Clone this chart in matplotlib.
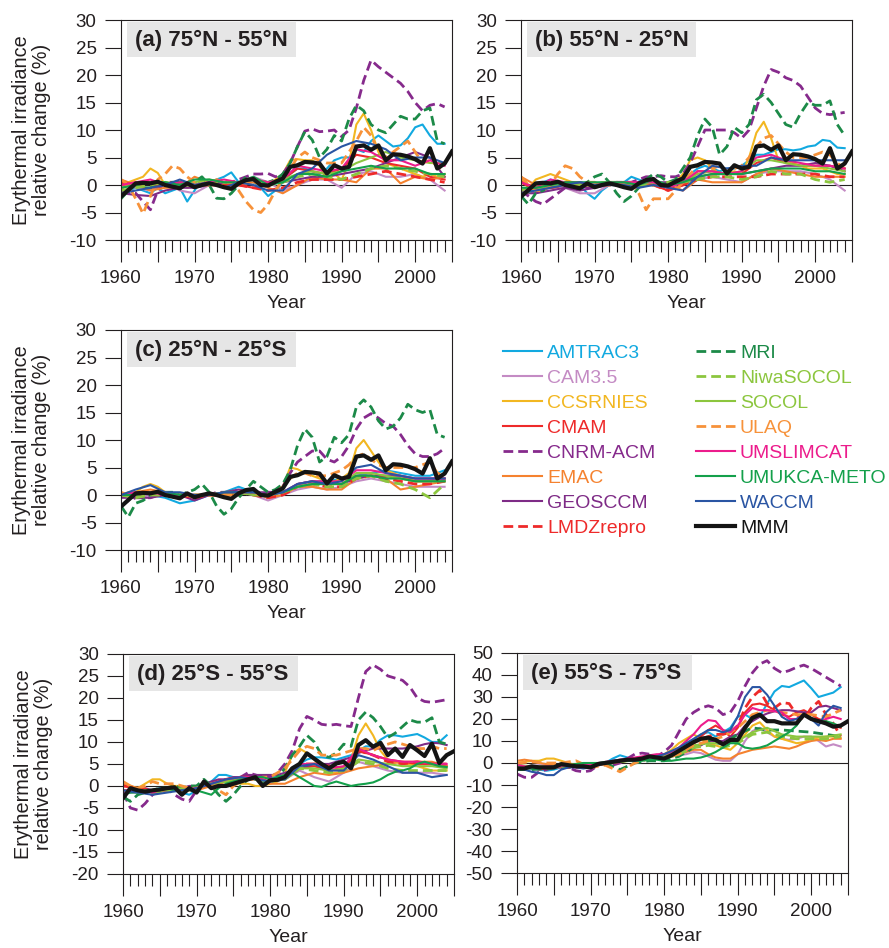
import matplotlib
matplotlib.use('Agg')
import matplotlib.pyplot as plt
import numpy as np
from matplotlib.patches import Rectangle
from matplotlib.ticker import MultipleLocator, FuncFormatter

plt.rcParams['font.family'] = ['Liberation Sans', 'DejaVu Sans']
plt.rcParams['axes.unicode_minus'] = False
plt.rcParams['lines.scale_dashes'] = False

# years: models are read every year or every second year, MMM runs to 2005
yrs = np.arange(1960, 2005)
yrs2 = np.arange(1960, 2005, 2)
yrs_mmm = np.arange(1960, 2006)

models = ['AMTRAC3', 'CAM3.5', 'CCSRNIES', 'CMAM', 'CNRM-ACM', 'EMAC', 'GEOSCCM',
          'LMDZrepro', 'MRI', 'NiwaSOCOL', 'SOCOL', 'ULAQ', 'UMSLIMCAT',
          'UMUKCA-METO', 'WACCM']
colors = ['#12A9E0', '#C48BC4', '#F2B721', '#EE2A2A', '#862A8C', '#F5822F', '#7E2B86',
          '#EE2A2A', '#1C8A48', '#8CC63E', '#8CC63E', '#F7923A', '#EC1C8C',
          '#14A04B', '#2A55A3']
dashed = [False, False, False, False, True, False, False,
          True, True, True, False, True, False, False, False]

# ---------------- MMM (same curve in a, b, c) ----------------
mmm_abc = [-2.1, -0.9, 0.3, 0.4, 0.3, 0.6, 0.0, -0.3, -0.6, 0.3,
           -0.4, 0.0, 0.3, 0.0, -0.4, -0.7, 0.3, 0.9, 1.1, 0.0,
           -0.1, 0.6, 1.2, 3.3, 3.6, 4.2, 4.1, 3.9, 2.1, 3.6,
           3.0, 3.3, 7.0, 7.2, 6.4, 7.2, 4.5, 5.6, 5.5, 5.2,
           4.7, 3.9, 6.7, 3.0, 3.9, 6.1]
mmm_d = [-2.8, -0.5, -1.0, -1.3, -1.0, -0.8, -0.5, -0.3, -2.0, -0.5,
         -1.5, 1.0, -0.5, 0.0, 0.0, 0.5, 1.0, 1.5, 2.0, 0.0,
         1.3, 1.4, 2.0, 4.0, 5.0, 7.4, 6.2, 5.0, 4.0, 5.1,
         5.5, 4.0, 9.3, 10.4, 8.9, 9.8, 7.0, 8.5, 6.6, 9.3,
         8.1, 6.8, 9.6, 5.2, 7.0, 7.9]
mmm_e = [-2.5, -2.5, -1.5, -2.0, -2.0, -2.0, -0.5, -1.0, -1.5, -1.5,
         -2.0, -0.5, 0.0, 0.5, 1.0, 1.5, 1.5, 2.0, 3.0, 2.5,
         2.0, 3.5, 5.5, 7.5, 9.5, 11.0, 11.5, 10.5, 8.5, 10.5,
         10.5, 16.0, 20.5, 22.0, 19.0, 19.0, 18.0, 18.0, 18.0, 22.0,
         20.0, 19.0, 18.0, 16.5, 17.0, 19.0]

# ---------------- (a) 75N - 55N ----------------
a_amtrac = [-1.0, -1.0, -0.5, -1.0, -1.5, -0.5, -1.5, -1.0, -0.5, -3.0,
            -1.0, 1.0, 0.5, 1.0, 1.5, 2.3, 0.5, 0.5, 0.5, -0.5,
            -2.0, -1.0, 0.5, 2.0, 3.0, 3.0, 2.5, 2.0, 3.0, 4.5,
            5.0, 5.0, 6.5, 6.0, 8.0, 9.0, 8.0, 7.0, 7.2, 8.5,
            10.5, 11.0, 9.0, 7.5, 7.5]
a_cam = [0.0, -0.5, -1.0, 0.5, -1.0, -1.5, 0.0, 0.5, 0.5, 1.5,
         0.5, -1.0, 0.0, 1.0, 1.0, -0.5, 2.0, 2.5, 1.5, 1.5,
         2.0, 1.0, -1.0]
a_ccsr = [-1.0, 0.5, 1.0, 1.5, 3.0, 2.2, 0.0, 0.0, 0.5, -0.5,
          0.0, 0.5, 0.5, 0.0, 0.0, -0.5, 0.0, 0.5, 1.0, 0.5,
          0.0, 1.0, 2.0, 4.5, 4.7, 4.5, 4.5, 3.5, 1.0, 2.0,
          1.0, 4.0, 11.0, 13.0, 10.0, 6.0, 4.0, 3.5, 3.0, 2.5,
          2.0, 1.5, 2.0, 1.5, 2.0]
a_cmam = [0.0, 0.5, 0.5, 0.0, 0.5, 0.0, 0.0, 0.5, 0.0, -0.5,
          0.0, 1.0, 3.0, 2.5, 2.0, 3.0, 5.5, 5.0, 4.0, 3.5,
          3.0, 1.5, 1.0]
a_cnrm = [-0.9, -1.5, -1.5, -3.0, -4.5, -1.0, 0.5, 0.5, 0.0, 0.0,
          0.5, 0.0, 0.5, 0.5, 0.0, 0.5, 1.0, 1.5, 2.0, 2.0,
          2.1, 1.5, 2.0, 4.0, 7.0, 9.8, 10.2, 9.7, 9.8, 10.0,
          8.8, 10.0, 14.0, 19.0, 22.7, 21.5, 20.5, 19.5, 18.5, 17.0,
          15.0, 13.5, 14.5, 14.8, 14.2]
a_emac = [1.0, 0.0, -1.0, -0.5, -0.5, 1.5, 0.5, 0.0, 0.0, 0.5,
          -0.5, -1.5, 0.0, 1.5, 1.0, 1.0, 0.5, 3.0, 3.0, 0.3,
          1.5, 1.0, 1.5]
a_geos = [-1.5, -1.8, -2.0, -1.0, -0.5, -0.5, 0.0, 0.5, 0.5, 1.0,
          0.5, 0.5, 1.0, 1.5, 1.5, 2.0, 2.5, 3.0, 4.0, 5.0,
          6.0, 5.0, 1.5]
a_lmdz = [0.5, 0.0, -0.5, 0.0, 0.5, 0.0, 0.0, 0.0, 0.0, -0.5,
          -1.0, -0.5, 0.5, 1.0, 1.0, 1.0, 1.5, 2.0, 2.5, 2.0,
          1.5, 1.0, 0.5]
a_mri = [-2.5, -1.0, 0.0, -0.5, -0.5, 0.5, 0.0, 0.5, 0.5, 0.0,
         0.5, 1.5, 0.0, -2.4, -2.5, -1.5, 0.0, 1.5, 1.0, 0.5,
         0.5, 1.0, 2.0, 4.0, 7.0, 9.7, 8.2, 5.0, 6.5, 9.0,
         8.0, 12.0, 14.5, 13.5, 11.0, 10.0, 9.5, 11.0, 12.5, 12.0,
         12.0, 13.5, 14.0, 8.0, 7.5]
a_niwa = [-1.0, -0.5, 0.0, 0.5, 0.0, 0.0, 0.5, 0.5, 0.5, 1.0,
          0.0, 0.5, 1.5, 2.0, 1.5, 1.0, 2.0, 3.0, 3.5, 3.0,
          2.5, 2.0, 1.5]
a_socol = [-0.5, 0.0, 0.5, 0.5, 0.0, 0.5, 1.0, 0.5, 0.5, 1.0,
           0.5, 1.0, 2.0, 2.5, 2.0, 2.5, 4.0, 5.0, 6.0, 5.0,
           4.5, 4.0, 4.0]
a_ulaq = [1.0, 0.0, -2.5, -5.2, -2.0, 1.0, 2.0, 3.5, 3.0, 1.5,
          0.5, 0.0, 0.0, 1.0, 0.5, 0.5, -1.0, -3.0, -4.5, -5.0,
          -3.5, -1.0, 1.0, 3.0, 5.0, 6.0, 5.0, 4.5, 4.0, 4.0,
          4.0, 6.0, 8.0, 10.5, 9.0, 6.0, 5.0, 6.0, 7.0, 8.0,
          6.0, 4.0, 4.5, 3.5, 2.5]
a_umslim = [0.0, 0.5, 1.0, 0.0, 0.5, 0.0, 0.5, 1.0, 0.5, 1.0,
            0.5, 1.0, 3.5, 3.0, 2.5, 3.0, 6.5, 6.0, 4.5, 4.5,
            3.5, 4.5, 3.5]
a_umukca = [-0.5, 0.0, 0.5, 0.5, 0.0, 1.0, 1.0, 0.5, 0.5, 1.5,
            0.0, 0.5, 2.0, 2.0, 1.5, 2.5, 3.0, 3.5, 3.0, 3.0,
            3.0, 2.0, 2.0]
a_waccm = [-1.5, -1.0, -0.5, 0.0, 1.0, 0.0, 0.5, -0.5, 0.5, 0.0,
           -1.0, -1.0, 2.0, 3.0, 5.5, 7.0, 8.0, 7.5, 6.5, 4.5,
           5.0, 5.0, 4.0]

# ---------------- (b) 55N - 25N ----------------
b_amtrac = [-1.0, -1.5, -0.5, 0.5, 1.0, 0.5, 0.5, 0.0, 0.0, -1.5,
            -2.5, -1.0, 0.0, 0.0, 0.5, 1.5, 1.0, 0.5, 0.5, 0.0,
            -0.5, 0.0, 0.5, 2.0, 3.0, 3.5, 3.0, 2.5, 3.0, 3.0,
            3.5, 4.5, 5.5, 5.5, 6.0, 6.5, 6.5, 6.3, 6.5, 7.0,
            7.2, 8.2, 8.0, 6.8, 6.7]
b_cam = [-1.0, -1.5, -0.5, -0.5, -1.5, -1.5, 0.0, 0.5, 0.5, 0.5,
         0.0, -1.0, 1.0, 1.5, 1.0, 0.5, 2.0, 2.5, 2.5, 2.5,
         2.0, 1.0, -1.0]
b_ccsr = [1.0, -0.5, 1.0, 1.5, 2.0, 1.5, 1.0, 0.5, 0.5, 0.0,
          0.0, 0.5, 0.5, 0.0, 0.0, 0.0, 0.5, 0.5, 0.5, 0.0,
          0.0, 0.5, 2.0, 4.5, 5.0, 4.5, 3.0, 2.0, 2.0, 2.5,
          2.0, 5.0, 9.5, 11.5, 8.5, 4.5, 4.5, 4.0, 3.5, 3.0,
          3.0, 3.0, 2.5, 2.0, 2.0]
b_cmam = [0.5, -1.0, 0.0, 0.5, 0.0, 0.0, 0.0, 0.5, 0.0, 0.0,
          -1.0, 0.0, 2.5, 2.5, 2.0, 2.0, 4.0, 5.0, 4.0, 3.5,
          3.5, 3.5, 3.0]
b_cnrm = [-1.0, -2.0, -3.0, -3.5, -2.5, -1.5, -0.5, 0.0, 0.0, -0.5,
          -0.5, 0.0, 0.0, 0.5, 0.5, 0.5, 1.0, 1.5, 1.5, 1.7,
          1.5, 1.5, 2.0, 4.0, 7.0, 10.0, 10.0, 10.0, 10.0, 9.5,
          8.5, 10.0, 14.0, 18.0, 21.0, 20.5, 19.5, 19.0, 18.0, 16.0,
          14.0, 13.0, 12.8, 13.0, 13.2]
b_emac = [1.5, 0.0, -0.5, 0.0, 0.0, 0.0, 0.5, 0.0, 0.0, 0.5,
          0.0, -1.0, 1.0, 0.5, 0.5, 0.5, 2.0, 3.0, 2.5, 2.0,
          1.5, 1.5, 1.5]
b_geos = [-1.5, -1.5, -1.0, -0.5, -1.0, -0.5, 0.0, 0.5, 0.5, 0.5,
          0.5, 0.0, 1.5, 2.0, 2.0, 2.0, 2.5, 3.0, 3.5, 3.5,
          4.0, 3.5, 2.5]
b_lmdz = [0.5, -0.5, -0.5, 0.0, 0.0, 0.0, 0.0, 0.5, 0.0, 0.0,
          -1.0, 0.0, 1.0, 1.5, 1.5, 1.5, 1.5, 2.0, 2.0, 2.0,
          2.0, 1.5, 1.5]
b_mri = [-2.0, -3.5, -1.5, -1.0, 0.0, 0.5, 0.0, 0.5, 0.0, 0.5,
         1.5, 2.0, 0.5, -1.5, -3.0, -2.0, -0.5, 1.0, 2.0, 1.5,
         0.5, 1.0, 3.0, 5.0, 9.0, 12.0, 10.5, 5.5, 7.0, 10.5,
         9.5, 11.0, 15.5, 16.5, 15.0, 13.0, 11.0, 10.5, 13.0, 15.0,
         14.5, 14.5, 15.3, 11.0, 9.0]
b_niwa = [-1.5, -1.0, 0.0, 0.0, 0.0, 0.0, 0.5, 0.5, 0.0, 0.0,
          0.5, 0.5, 1.0, 1.5, 1.5, 1.0, 1.5, 2.5, 2.0, 2.0,
          1.0, 0.5, 1.0]
b_socol = [-1.0, 0.0, 0.5, 0.5, 0.0, 0.0, 0.5, 0.5, 0.0, 0.5,
           0.0, 0.5, 2.0, 2.5, 2.0, 2.5, 4.5, 4.5, 4.0, 3.5,
           3.5, 3.0, 2.5]
b_ulaq = [1.5, 0.0, -1.0, -1.0, 0.0, 2.0, 3.5, 3.0, 1.5, 0.5,
          0.5, 0.0, 0.0, 0.0, 0.0, 0.5, -1.5, -4.5, -2.5, -2.5,
          -2.5, -1.0, 0.5, 2.0, 3.5, 4.0, 3.0, 3.5, 2.5, 3.0,
          3.5, 5.0, 7.0, 8.5, 9.0, 7.5, 6.0, 5.0, 5.0, 5.0,
          5.5, 6.0, 5.5, 4.0, 3.0]
b_umslim = [0.5, -0.5, 1.0, 0.5, 0.5, 0.0, 0.5, 0.5, 0.5, 0.5,
            -0.5, 0.5, 2.5, 2.5, 2.0, 2.5, 5.0, 5.5, 4.5, 4.0,
            3.5, 3.5, 3.0]
b_umukca = [-0.5, -0.5, 0.0, 0.5, 0.5, 0.5, 0.5, 0.5, 0.0, 1.0,
            0.0, 0.5, 1.5, 2.0, 2.0, 2.0, 2.5, 3.0, 3.0, 3.0,
            2.5, 2.5, 2.0]
b_waccm = [-1.5, -1.0, -0.5, 0.0, 0.5, 0.0, 0.0, 0.0, -0.5, 0.0,
           -0.5, -1.0, 1.5, 3.5, 3.0, 3.5, 3.5, 5.0, 4.5, 4.5,
           4.5, 4.5, 4.5]

# ---------------- (c) 25N - 25S ----------------
c_amtrac = [0.0, 0.5, 0.0, -0.5, -1.5, -1.0, 0.0, 0.5, 1.5, 0.5,
            -0.5, 0.0, 2.0, 2.5, 2.5, 3.0, 3.5, 4.0, 4.5, 4.0,
            3.5, 3.5, 4.5]
c_cam = [0.0, -0.5, 0.0, 0.0, 0.0, -0.5, 0.0, 0.0, 0.5, 0.0,
         -1.0, 0.0, 1.0, 1.5, 1.0, 1.5, 2.5, 3.0, 2.5, 2.0,
         1.5, 1.5, 1.5]
c_ccsr = [0.0, 0.5, 0.5, 1.5, 2.0, 1.5, 0.5, 0.0, 0.0, 0.0,
          -0.5, 0.0, 0.0, 0.0, 0.0, 0.0, 0.0, 0.5, 0.5, 0.0,
          -0.5, 0.0, 1.5, 5.0, 4.7, 4.0, 3.5, 3.0, 2.5, 2.5,
          3.0, 4.0, 8.5, 10.0, 8.0, 6.0, 4.5, 4.0, 3.5, 3.0,
          2.5, 2.5, 2.5, 3.0, 3.0]
c_cmam = [0.0, 0.5, 0.5, 0.0, 0.0, -0.5, 0.0, 0.5, 0.5, 0.5,
          0.0, 0.5, 1.5, 2.0, 2.0, 2.0, 3.5, 3.5, 3.5, 3.0,
          2.5, 2.5, 2.5]
c_cnrm = [-2.0, -1.0, -0.5, -0.5, -0.5, 0.0, 0.0, 0.0, 0.0, 0.0,
          0.0, 0.0, 0.0, 0.5, 0.5, 0.5, 0.5, 0.5, 0.5, 0.5,
          0.5, 0.5, 1.5, 4.0, 6.0, 7.0, 8.0, 8.0, 6.5, 6.0,
          7.0, 9.0, 12.0, 14.0, 14.8, 14.0, 13.0, 12.5, 11.0, 9.0,
          7.5, 7.0, 7.0, 7.5, 8.5]
c_emac = [0.0, 0.5, 1.0, 0.5, 0.0, -0.5, 0.0, 0.0, 0.5, 0.5,
          -0.5, 0.0, 1.5, 1.5, 1.0, 1.0, 3.0, 3.5, 3.0, 1.0,
          1.5, 2.0, 2.5]
c_geos = [-0.5, -0.5, -0.5, 0.0, 0.0, -1.0, 0.0, 0.5, 1.0, 0.5,
          0.5, 0.5, 2.0, 2.5, 2.0, 2.0, 3.0, 3.5, 3.5, 3.5,
          3.0, 3.0, 3.0]
c_lmdz = [0.0, 0.0, 0.5, 0.0, 0.0, -0.5, 0.0, 0.0, 0.5, 0.0,
          -0.5, 0.0, 1.5, 2.0, 1.5, 1.5, 3.0, 3.5, 3.0, 2.5,
          2.0, 2.0, 2.5]
c_mri = [-2.0, -4.0, -1.5, -1.0, 0.0, 0.5, 0.5, 0.5, 0.0, 0.5,
         1.0, 2.0, 0.5, -2.0, -3.5, -2.5, -0.5, 1.0, 2.5, 1.5,
         0.5, 1.0, 2.0, 4.5, 9.0, 12.0, 10.5, 6.0, 7.0, 10.5,
         9.5, 11.0, 16.0, 17.3, 16.0, 13.5, 12.0, 12.5, 14.0, 16.5,
         15.5, 15.0, 15.5, 11.0, 10.5]
c_niwa = [0.0, -0.5, 0.0, 0.0, 0.0, 0.0, 0.0, 0.5, 0.5, 0.0,
          0.0, 0.5, 1.5, 2.0, 1.5, 1.5, 3.0, 3.5, 2.5, 2.0,
          1.0, -0.5, 2.0]
c_socol = [0.0, 0.0, 0.5, 0.5, 0.0, 0.0, 0.0, 0.5, 0.5, 0.0,
           0.0, 0.5, 1.5, 2.0, 2.0, 2.0, 4.0, 4.0, 3.5, 3.0,
           2.5, 2.5, 2.5]
c_ulaq = [0.5, 0.0, 0.0, 0.5, 0.5, 0.5, 0.5, 0.0, 0.0, 0.0,
          0.0, 0.0, 0.0, 0.0, 0.0, 0.0, 0.5, 0.5, 0.5, 0.0,
          0.0, 0.5, 1.5, 3.0, 4.0, 4.0, 3.5, 3.5, 3.5, 4.0,
          4.5, 5.5, 7.0, 7.5, 6.5, 5.5, 5.0, 5.0, 5.0, 5.0,
          5.0, 5.5, 6.0, 4.0, 3.5]
c_umslim = [0.0, 0.5, 0.5, 0.0, 0.0, 0.0, 0.0, 0.5, 0.5, 0.5,
            0.0, 0.5, 2.0, 2.5, 2.5, 2.5, 4.5, 4.5, 4.0, 3.5,
            3.0, 3.0, 3.0]
c_umukca = [0.0, 0.0, 0.5, 0.5, 0.0, 0.0, 0.0, 0.5, 0.5, 0.5,
            0.0, 0.5, 1.5, 2.0, 2.0, 2.0, 3.5, 3.5, 3.0, 3.0,
            2.5, 2.5, 2.5]
c_waccm = [0.0, 1.0, 1.8, 0.5, 0.5, 0.0, 0.0, 0.5, 0.5, 0.5,
           0.0, 0.5, 2.0, 2.5, 2.0, 2.5, 5.0, 5.5, 4.0, 3.5,
           3.0, 3.0, 3.0]

# ---------------- (d) 25S - 55S ----------------
d_amtrac = [-1.0, -1.5, -1.0, -1.5, -1.0, -0.5, -0.5, -1.0, -1.5, -2.0,
            -1.0, 0.0, 1.0, 2.5, 2.5, 2.0, 2.0, 2.0, 2.5, 2.0,
            2.0, 2.0, 2.5, 3.5, 5.0, 6.0, 6.5, 6.5, 6.3, 6.0,
            6.5, 7.0, 8.0, 9.0, 9.0, 10.5, 11.5, 11.5, 11.2, 11.5,
            11.8, 11.0, 10.0, 10.0, 11.5]
d_cam = [-1.5, -1.5, -1.0, -1.0, -1.0, -1.0, 0.5, 1.0, 1.5, 1.5,
         1.0, 1.5, 3.5, 2.0, 1.0, 3.0, 5.5, 4.5, 3.5, 3.0,
         3.0, 3.0, 2.5]
d_ccsr = [0.0, 0.0, -0.5, 0.5, 1.5, 1.5, 0.5, 0.0, 0.0, -0.5,
          0.0, 0.0, 0.5, 0.5, 1.0, 1.0, 0.5, 0.5, 0.0, 0.0,
          0.5, 1.0, 3.0, 7.0, 8.5, 7.5, 6.0, 4.0, 3.0, 3.0,
          3.5, 6.0, 11.5, 14.2, 11.5, 8.0, 6.0, 5.5, 5.0, 5.0,
          4.5, 4.0, 3.5, 3.5, 3.5]
d_cmam = [-1.0, -1.0, -1.5, -1.0, -1.0, -0.5, 0.5, 1.5, 2.0, 1.5,
          1.0, 1.5, 4.0, 4.5, 3.5, 4.0, 8.0, 7.0, 6.0, 5.5,
          5.0, 5.0, 4.5]
d_cnrm = [-1.5, -5.0, -5.5, -4.0, -2.0, -1.0, -0.5, -2.0, -3.0, -3.5,
          -1.0, 0.0, 0.5, 0.5, 0.5, 1.0, 2.0, 3.0, 2.5, 2.0,
          2.0, 3.0, 5.0, 8.0, 13.0, 15.8, 15.0, 14.0, 13.8, 14.0,
          13.7, 13.5, 20.0, 26.0, 27.5, 26.5, 25.0, 24.5, 24.0, 22.5,
          20.0, 19.2, 19.0, 19.3, 19.6]
d_emac = [0.5, -0.5, -1.5, -1.0, -1.0, -1.0, 0.0, 1.0, 1.5, 1.5,
          0.5, 0.5, 2.0, 3.0, 2.5, 3.0, 4.0, 4.5, 5.0, 5.5,
          5.5, 5.5, 4.5]
d_geos = [-1.5, -1.0, -1.0, -0.5, -1.0, -1.0, -1.0, -0.5, -0.5, 0.0,
          0.0, 0.5, 1.0, 1.5, 1.5, 2.0, 2.0, 2.5, 2.5, 2.5,
          2.5, 2.5, 3.0, 3.5, 4.0, 4.5, 5.0, 5.0, 5.0, 5.5,
          6.0, 6.5, 7.5, 8.0, 8.5, 8.5, 8.5, 8.5, 8.5, 8.7,
          9.0, 9.5, 9.8, 9.7, 9.3]
d_lmdz = [0.0, -0.5, -1.0, -1.0, -0.5, -0.5, 0.5, 1.5, 2.0, 2.0,
          1.0, 2.0, 5.0, 5.0, 4.5, 4.0, 8.0, 7.0, 5.5, 5.0,
          5.5, 5.0, 5.0]
d_mri = [-2.5, -3.5, -2.0, -1.5, -1.0, -0.5, -0.5, 0.0, -0.5, 0.0,
         0.0, 1.5, 0.0, -2.0, -3.5, -2.0, 0.0, 1.5, 2.0, 1.0,
         1.0, 2.0, 4.0, 7.0, 9.0, 11.5, 10.0, 7.0, 6.5, 7.5,
         9.5, 9.0, 15.0, 16.8, 15.5, 13.5, 11.0, 12.0, 13.5, 15.0,
         14.5, 14.5, 15.5, 10.0, 9.5]
d_niwa = [-1.0, -1.5, -1.5, -1.0, -1.0, -0.5, 0.5, 1.0, 1.5, 1.5,
          1.0, 1.5, 4.0, 3.5, 3.0, 3.5, 5.5, 5.0, 4.0, 3.5,
          3.5, 3.5, 3.5]
d_socol = [-1.0, -1.0, -1.0, -1.0, -0.5, -0.5, 0.5, 1.0, 2.0, 1.5,
           1.0, 1.5, 4.0, 4.0, 3.5, 4.0, 6.0, 5.5, 5.0, 4.5,
           4.5, 4.5, 4.0]
d_ulaq = [1.0, 0.0, -0.5, 0.0, 1.0, 0.5, 0.5, 0.5, 0.0, -0.5,
          -0.5, 0.0, 0.0, -1.0, -2.0, 0.0, 1.0, 1.5, 1.5, 2.0,
          2.0, 3.0, 4.0, 6.0, 8.0, 9.0, 8.5, 7.0, 7.0, 7.0,
          7.5, 8.0, 8.5, 8.5, 8.0, 9.0, 9.5, 10.0, 9.5, 9.0,
          8.5, 8.5, 9.0, 8.5, 8.5]
d_umslim = [-1.0, -1.0, -1.5, -0.5, -1.0, -0.5, 0.5, 1.5, 2.0, 2.0,
            1.0, 2.0, 5.0, 5.0, 4.0, 4.5, 8.5, 7.0, 6.0, 5.5,
            5.5, 5.0, 5.0]
d_umukca = [-2.0, -1.5, -1.5, -1.0, -1.0, -1.0, -0.5, -1.0, -1.0, -1.0,
            -1.0, -1.5, -2.0, -0.5, 0.5, 1.0, 1.5, 1.5, 2.0, 2.0,
            1.5, 2.0, 2.5, 3.0, 2.0, 1.0, 0.0, -0.2, 0.5, 1.0,
            0.5, 0.0, 0.3, 0.5, 0.8, 1.5, 2.5, 3.2, 3.5, 4.0,
            5.0, 5.5, 5.0, 4.5, 4.3]
d_waccm = [-1.0, -1.5, -2.0, -1.5, -1.0, -0.5, 0.5, 1.5, 2.0, 1.5,
           1.0, 1.5, 4.5, 5.0, 3.5, 3.5, 7.0, 6.0, 4.5, 3.0,
           3.0, 2.0, 2.5]

# ---------------- (e) 55S - 75S ----------------
e_amtrac = [-1.0, -2.0, -2.5, -3.0, -3.5, -3.0, -2.0, -1.5, -1.5, -2.0,
            -2.0, -1.0, 0.0, 2.0, 3.5, 2.5, 1.5, 2.0, 3.0, 3.5,
            3.0, 4.5, 6.0, 8.0, 10.0, 13.0, 14.0, 12.0, 14.0, 16.0,
            21.0, 22.0, 20.0, 21.0, 27.0, 32.5, 35.0, 34.5, 36.0, 37.5,
            34.0, 30.0, 31.0, 32.0, 34.5]
e_cam = [-1.0, -1.5, -1.5, -1.0, -1.0, -1.0, -1.5, -1.5, -1.0, -1.0,
         -1.0, -0.5, 0.0, 0.5, 1.0, 1.0, 1.5, 2.0, 2.0, 2.5,
         2.5, 3.0, 3.5, 4.0, 5.0, 4.5, 3.0, 1.5, 1.0, 1.0,
         4.0, 10.0, 14.5, 16.0, 14.0, 12.0, 11.0, 10.5, 11.0, 12.0,
         12.0, 10.0, 7.5, 8.5, 7.5]
e_ccsr = [0.0, 0.5, 1.0, 1.0, 2.0, 2.0, 1.0, 0.0, -1.0, -1.5,
          -1.5, -1.0, 0.0, 0.5, 1.0, 1.0, 1.5, 2.0, 2.5, 3.0,
          4.0, 6.0, 9.0, 11.0, 13.0, 11.0, 9.0, 8.0, 7.0, 6.0,
          9.0, 13.0, 17.0, 18.5, 15.0, 12.0, 11.0, 10.0, 9.0, 9.5,
          11.0, 11.5, 12.0, 12.0, 11.5]
e_cmam = [-1.0, -1.5, -2.0, -3.0, -2.5, -2.0, -2.0, -2.0, -1.5, -1.5,
          -1.0, -0.5, 0.0, 0.5, 1.0, 1.5, 2.0, 2.5, 3.0, 3.0,
          2.0, 3.0, 5.0, 7.0, 9.0, 12.0, 15.0, 17.0, 15.0, 12.0,
          16.0, 23.0, 26.5, 27.0, 26.0, 24.0, 22.0, 21.0, 23.0, 24.0,
          22.0, 20.0, 19.0, 17.0, 16.0]
e_cnrm = [-5.0, -6.5, -6.5, -4.0, -3.0, -2.0, -1.0, -2.0, -3.5, -4.0,
          -3.5, -1.0, 0.0, -1.0, 0.0, 2.0, 4.0, 4.5, 4.0, 3.0,
          5.0, 8.0, 14.0, 20.0, 23.0, 25.0, 26.0, 25.0, 22.0, 23.0,
          28.0, 35.0, 41.0, 45.0, 46.5, 43.0, 41.0, 42.0, 43.5, 44.5,
          43.0, 41.0, 39.0, 37.0, 35.0]
e_emac = [1.0, 1.5, 1.0, 0.0, -0.5, -1.0, -1.0, -1.0, -1.0, -1.5,
          -1.5, -1.0, -0.5, 0.0, 0.5, 1.0, 1.0, 1.5, 2.0, 2.5,
          2.5, 3.0, 4.0, 5.0, 6.0, 6.0, 4.0, 2.5, 2.0, 2.0,
          4.0, 5.0, 6.0, 6.5, 7.0, 7.5, 7.0, 6.5, 7.5, 9.0,
          10.0, 10.5, 10.0, 11.0, 11.0]
e_geos = [-2.0, -2.0, -2.5, -2.0, -2.0, -1.5, -1.5, -1.0, -1.0, -1.0,
          -1.0, -0.5, 0.0, 0.5, 1.0, 1.0, 1.5, 2.0, 2.5, 3.0,
          3.0, 3.5, 4.5, 5.5, 7.0, 8.0, 10.0, 10.0, 10.0, 12.0,
          13.0, 17.0, 19.0, 21.0, 22.5, 23.5, 24.0, 24.0, 23.5, 23.0,
          23.0, 25.5, 26.0, 25.0, 24.0]
e_lmdz = [-1.0, -1.5, -2.0, -2.0, -2.5, -2.0, -2.0, -2.0, -2.0, -2.0,
          -1.5, -1.0, 0.0, 0.5, 1.0, 1.5, 2.0, 2.5, 3.0, 3.0,
          2.5, 3.5, 5.0, 7.0, 9.0, 11.0, 12.0, 13.0, 13.0, 14.0,
          17.0, 25.0, 30.0, 33.0, 27.0, 25.0, 27.5, 27.0, 22.0, 20.0,
          25.0, 28.0, 22.0, 18.0, 12.0]
e_mri = [-3.0, -3.0, -2.5, -2.0, -1.5, -1.0, 0.0, -3.0, 0.0, 1.0,
         1.0, 3.0, 7.0, 10.0, 8.5, 13.0, 16.0, 15.0, 15.0, 14.5,
         14.0, 13.0, 12.0]
e_niwa = [-2.0, -2.0, -2.0, -1.5, -1.0, -1.0, 0.0, 0.5, 1.5, 2.0,
          2.0, 4.0, 7.0, 8.0, 7.0, 9.0, 13.0, 14.0, 12.0, 11.0,
          11.0, 11.0, 12.0]
e_socol = [-1.0, -1.5, -1.5, -1.5, -1.0, -1.0, 0.0, 1.0, 2.0, 3.0,
           3.0, 5.0, 8.0, 9.0, 9.0, 10.0, 14.0, 16.0, 13.0, 12.0,
           12.0, 12.0, 13.0]
e_ulaq = [0.0, 0.5, 0.0, 0.0, 1.0, -2.0, -1.0, -4.0, 0.0, 2.0,
          2.0, 4.0, 8.0, 10.0, 12.0, 16.0, 22.0, 24.0, 23.0, 22.0,
          22.0, 21.0, 24.0]
e_umslim = [-1.0, -1.5, -2.0, -2.0, -1.5, -1.5, -1.5, -1.0, -1.0, -1.0,
            -0.5, 0.0, 0.5, 1.0, 1.5, 2.0, 2.5, 3.0, 3.5, 4.0,
            4.0, 5.0, 7.0, 10.0, 13.0, 17.0, 19.5, 19.0, 15.0, 14.0,
            17.0, 22.0, 25.0, 24.0, 24.0, 23.5, 23.0, 20.0, 20.0, 22.0,
            20.0, 19.0, 20.0, 21.0, 20.0]
e_umukca = [-2.0, -2.5, -2.5, -2.0, -2.0, -1.5, -1.0, -1.0, -0.5, 0.0,
            0.0, 0.0, 0.5, 0.5, 1.0, 1.0, 1.0, 1.0, 1.5, 1.5,
            1.0, 1.0, 1.5, 2.0, 2.0, 2.5, 3.5, 5.0, 7.0, 9.0,
            9.0, 7.0, 6.5, 7.0, 8.0, 10.0, 12.0, 14.0, 17.0, 22.0,
            20.5, 19.0, 19.0, 18.0, 16.5]
e_waccm = [-2.0, -3.0, -4.0, -4.5, -5.5, -5.5, -3.0, -2.0, -2.0, -2.5,
           -2.0, -1.0, 0.0, 1.0, 1.5, 1.5, 1.0, 2.0, 2.5, 3.0,
           4.0, 5.5, 7.0, 9.0, 11.0, 13.0, 15.0, 15.0, 14.0, 15.0,
           21.0, 30.0, 34.5, 34.5, 31.0, 26.0, 21.0, 19.0, 20.0, 22.0,
           20.0, 17.0, 23.0, 26.0, 25.0]

series_a = [a_amtrac, a_cam, a_ccsr, a_cmam, a_cnrm, a_emac, a_geos, a_lmdz,
            a_mri, a_niwa, a_socol, a_ulaq, a_umslim, a_umukca, a_waccm]
series_b = [b_amtrac, b_cam, b_ccsr, b_cmam, b_cnrm, b_emac, b_geos, b_lmdz,
            b_mri, b_niwa, b_socol, b_ulaq, b_umslim, b_umukca, b_waccm]
series_c = [c_amtrac, c_cam, c_ccsr, c_cmam, c_cnrm, c_emac, c_geos, c_lmdz,
            c_mri, c_niwa, c_socol, c_ulaq, c_umslim, c_umukca, c_waccm]
series_d = [d_amtrac, d_cam, d_ccsr, d_cmam, d_cnrm, d_emac, d_geos, d_lmdz,
            d_mri, d_niwa, d_socol, d_ulaq, d_umslim, d_umukca, d_waccm]
series_e = [e_amtrac, e_cam, e_ccsr, e_cmam, e_cnrm, e_emac, e_geos, e_lmdz,
            e_mri, e_niwa, e_socol, e_ulaq, e_umslim, e_umukca, e_waccm]

ink = '#231F20'
fig = plt.figure(figsize=(8.89, 9.48), dpi=100)


def draw_panel(rect, title, series, mmm, ylim, ystep, ylabel):
    ax = fig.add_axes(rect)
    for vals, name, col, dash in zip(series, models, colors, dashed):
        x = yrs if len(vals) == len(yrs) else yrs2
        if dash:
            ax.plot(x, vals, color=col, lw=2.0, ls=(0, (7, 3.6)), label=name, zorder=2)
        else:
            ax.plot(x, vals, color=col, lw=1.5, label=name, zorder=2)
    ax.plot(yrs_mmm, mmm, color='#141414', lw=3.0, label='MMM', zorder=3)
    ax.axhline(0, color=ink, lw=0.8, zorder=1.5)

    ax.set_xlim(1960, 2005)
    ax.set_ylim(*ylim)
    ax.yaxis.set_major_locator(MultipleLocator(ystep))
    ax.xaxis.set_major_locator(MultipleLocator(5))
    ax.xaxis.set_minor_locator(MultipleLocator(1))
    ax.xaxis.set_major_formatter(FuncFormatter(lambda v, p: f'{int(round(v))}' if round(v) % 10 == 0 and v < 2005 else ''))
    ax.tick_params(axis='y', direction='out', length=11.5, width=0.8, pad=6,
                   labelsize=13.5, colors=ink)
    ax.tick_params(axis='x', which='major', direction='out', length=15.5, width=0.8,
                   pad=6, labelsize=13.5, colors=ink)
    ax.tick_params(axis='x', which='minor', direction='out', length=8.5, width=0.8, colors=ink)
    for sp in ax.spines.values():
        sp.set_color(ink)
        sp.set_linewidth(0.8)
    ax.set_xlabel('Year', fontsize=14, color=ink, labelpad=6)

    ax.add_patch(Rectangle((0.018, 0.832), 0.51, 0.16, transform=ax.transAxes,
                           facecolor='#E6E6E6', edgecolor='none', zorder=0.5))
    ax.text(0.042, 0.905, title, transform=ax.transAxes, fontsize=16,
            fontweight='bold', ha='left', va='center', color=ink, zorder=4)
    if ylabel:
        ax.text(-0.27, 0.5, 'Erythermal irradiance\nrelative change (%)',
                transform=ax.transAxes, rotation=90, ha='center', va='center',
                multialignment='center', fontsize=14.3, color=ink, linespacing=1.1)
    return ax


ax_a = draw_panel([0.1361, 0.7468, 0.3723, 0.2321], '(a) 75°N - 55°N', series_a,
                  mmm_abc, (-10, 30), 5, True)
draw_panel([0.5861, 0.7468, 0.3723, 0.2321], '(b) 55°N - 25°N', series_b,
           mmm_abc, (-10, 30), 5, False)
draw_panel([0.1361, 0.4198, 0.3723, 0.2321], '(c) 25°N - 25°S', series_c,
           mmm_abc, (-10, 30), 5, True)
draw_panel([0.1384, 0.0781, 0.3723, 0.2321], '(d) 25°S - 55°S', series_d,
           mmm_d, (-20, 30), 5, True)
draw_panel([0.5816, 0.0791, 0.3723, 0.2321], '(e) 55°S - 75°S', series_e,
           mmm_e, (-50, 50), 10, False)

handles, labels = ax_a.get_legend_handles_labels()
fig.legend(handles, labels, loc='upper left', bbox_to_anchor=(503 / 889, 1 - 344 / 948),
           ncol=2, frameon=False, fontsize=14, handlelength=2.0, handletextpad=0.26,
           columnspacing=2.1, labelspacing=0.38, borderpad=0, borderaxespad=0,
           labelcolor='linecolor')

fig.savefig('out.png', dpi=100)
